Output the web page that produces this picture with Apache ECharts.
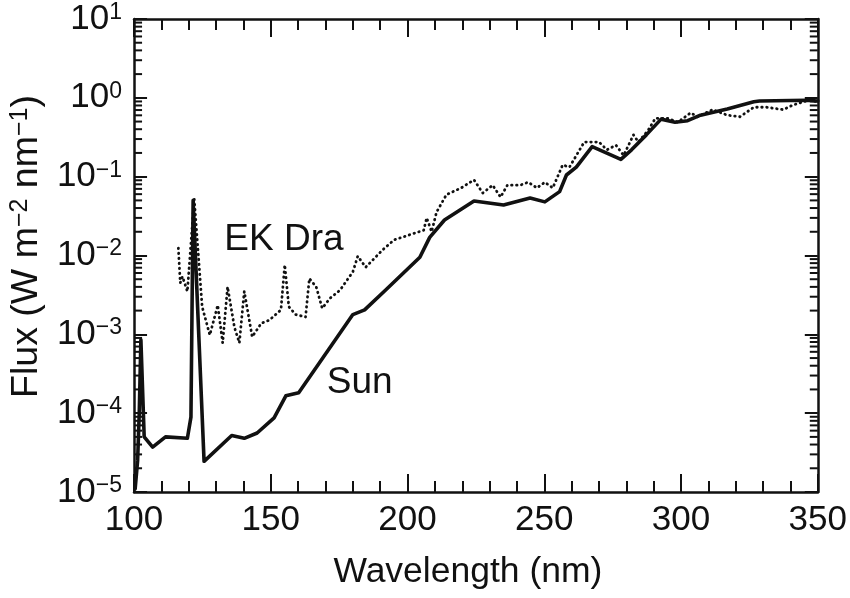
<!DOCTYPE html>
<html><head><meta charset="utf-8">
<script src="https://cdn.jsdelivr.net/npm/echarts@6/dist/echarts.min.js"></script>
<style>html,body{margin:0;padding:0;background:#fff}#c{width:850px;height:598px}</style>
</head><body><div id="c"></div>
<script>
const sunWavelength = [100.4, 101.3, 101.9, 102.5, 103.7, 106.8, 111.5, 119.5, 120.8, 121.6, 125.6, 135.7, 140.3, 145.0, 151.2, 155.5, 160.2, 180.0, 184.3, 191.9, 204.5, 208.1, 213.5, 224.3, 235.1, 244.8, 250.2, 255.6, 258.1, 261.7, 267.5, 278.0, 281.9, 287.3, 292.7, 297.8, 302.4, 307.1, 316.9, 326.6, 328.7, 345.7, 350.0];
const sunFlux = [1.1e-5, 2.5e-5, 1.0e-4, 8.5e-4, 5.0e-5, 3.7e-5, 5.0e-5, 4.8e-5, 8.9e-5, 5.0e-2, 2.45e-5, 5.2e-5, 4.8e-5, 5.6e-5, 8.7e-5, 1.66e-4, 1.82e-4, 1.78e-3, 2.04e-3, 3.63e-3, 9.5e-3, 1.7e-2, 2.82e-2, 4.9e-2, 4.37e-2, 5.37e-2, 4.79e-2, 6.46e-2, 0.105, 0.132, 0.24, 0.166, 0.219, 0.339, 0.537, 0.49, 0.513, 0.603, 0.724, 0.891, 0.912, 0.933, 0.912];
const ekWavelength = [116.2, 116.9, 117.7, 119.5, 122.0, 124.9, 127.7, 130.6, 132.4, 134.2, 136.7, 138.5, 140.3, 143.2, 146.5, 149.4, 153.7, 155.1, 156.6, 159.1, 162.7, 164.1, 166.6, 168.8, 171.7, 175.3, 180.0, 181.8, 184.7, 190.8, 195.1, 205.9, 207.0, 208.8, 210.6, 214.2, 219.6, 224.3, 227.5, 231.1, 234.0, 236.5, 241.2, 244.1, 247.3, 250.2, 253.1, 256.7, 259.2, 264.6, 270.0, 272.9, 276.2, 279.0, 282.6, 284.4, 288.0, 290.6, 295.2, 298.8, 303.5, 306.1, 311.5, 316.9, 321.5, 326.6, 331.3, 337.4, 341.0, 346.8, 350.0];
const ekFlux = [1.24e-2, 4.5e-3, 5.4e-3, 3.5e-3, 5.2e-2, 2.24e-3, 9.8e-4, 2.34e-3, 7.8e-4, 4.0e-3, 1.23e-3, 7.8e-4, 3.5e-3, 9.3e-4, 1.38e-3, 1.51e-3, 2.04e-3, 7.6e-3, 2.24e-3, 1.78e-3, 1.66e-3, 5.1e-3, 4.0e-3, 2.14e-3, 2.88e-3, 3.63e-3, 6.2e-3, 9.8e-3, 7.1e-3, 1.17e-2, 1.58e-2, 2.09e-2, 3.0e-2, 2.0e-2, 3.55e-2, 5.9e-2, 7.2e-2, 9.1e-2, 6.2e-2, 7.8e-2, 5.5e-2, 7.8e-2, 7.8e-2, 8.5e-2, 7.2e-2, 8.5e-2, 7.2e-2, 0.141, 0.132, 0.275, 0.275, 0.219, 0.251, 0.186, 0.339, 0.275, 0.389, 0.55, 0.55, 0.49, 0.646, 0.575, 0.708, 0.603, 0.575, 0.759, 0.759, 0.708, 0.813, 0.933, 0.891];
const yTickExponents = ['\u22125', '\u22124', '\u22123', '\u22122', '\u22121', '0', '1'];
const yMinorTicks = [
  2e-5,3e-5,4e-5,5e-5,6e-5,7e-5,8e-5,9e-5,
  2e-4,3e-4,4e-4,5e-4,6e-4,7e-4,8e-4,9e-4,
  2e-3,3e-3,4e-3,5e-3,6e-3,7e-3,8e-3,9e-3,
  2e-2,3e-2,4e-2,5e-2,6e-2,7e-2,8e-2,9e-2,
  2e-1,3e-1,4e-1,5e-1,6e-1,7e-1,8e-1,9e-1,
  2,3,4,5,6,7,8,9];
const annotations = [
  {name: 'EK Dra', x: 154.8, y: 1.58e-2},
  {name: 'Sun', x: 182.5, y: 2.4e-4}
];

const FONT = '"Liberation Sans", Arial, Helvetica, sans-serif';
const INK = '#111';
const chart = echarts.init(document.getElementById('c'), null, {renderer: 'canvas'});

function xAxisCfg(pos, showLabel) {
  return {
    type: 'value', min: 100, max: 350, interval: 50, position: pos,
    axisLine: {show: true, lineStyle: {color: INK, width: 2.5}},
    axisTick: {show: true, inside: true, length: 18, lineStyle: {color: INK, width: 2}},
    minorTick: {show: true, splitNumber: 5, length: 11, lineStyle: {color: INK, width: 2}},
    splitLine: {show: false}, minorSplitLine: {show: false},
    axisLabel: {show: showLabel, fontFamily: FONT, fontSize: 35, color: INK, margin: 11},
    name: showLabel ? 'Wavelength (nm)' : '',
    nameLocation: 'middle', nameGap: 62,
    nameTextStyle: {fontFamily: FONT, fontSize: 35.5, color: INK, padding: [0, 16, 0, 0]}
  };
}
function yAxisCfg(pos, showLabel) {
  return {
    type: 'log', logBase: 10, min: 1e-5, max: 10, position: pos,
    axisLine: {show: true, lineStyle: {color: INK, width: 2.5}},
    axisTick: {show: true, inside: true, length: 13, lineStyle: {color: INK, width: 2}},
    splitLine: {show: false},
    axisLabel: {
      show: showLabel, margin: 12,
      formatter: function (v, i) { return '{b|10}{s|' + yTickExponents[i] + '}'; },
      rich: {
        b: {fontFamily: FONT, fontSize: 35, color: INK, lineHeight: 36},
        s: {fontFamily: FONT, fontSize: 23, color: INK, verticalAlign: 'top', lineHeight: 22}
      }
    },
    name: showLabel ? '{b|Flux (W m}{s|\u22122}{b| nm}{s|\u22121}{b|)}' : '',
    nameLocation: 'middle', nameGap: 86, nameRotate: 90,
    nameTextStyle: {
      padding: [0, 0, 0, 18],
      rich: {
        b: {fontFamily: FONT, fontSize: 37.5, color: INK, lineHeight: 38},
        s: {fontFamily: FONT, fontSize: 25, color: INK, verticalAlign: 'top', lineHeight: 24}
      }
    }
  };
}

chart.setOption({
  animation: false,
  backgroundColor: '#fff',
  grid: {left: 128, right: 28, top: 19, bottom: 106, containLabel: false},
  xAxis: [xAxisCfg('bottom', true), xAxisCfg('top', false)],
  yAxis: [yAxisCfg('left', true), yAxisCfg('right', false)],
  series: [
    {
      type: 'custom', xAxisIndex: 0, yAxisIndex: 0, silent: true, clip: false,
      data: yMinorTicks.map(v => [100, v]),
      renderItem: function (params, api) {
        const v = api.value(1);
        const pl = api.coord([100, v]);
        const pr = api.coord([350, v]);
        return {type: 'group', children: [
          {type: 'line', shape: {x1: pl[0], y1: pl[1], x2: pl[0] + 8, y2: pl[1]}, style: {stroke: INK, lineWidth: 2}},
          {type: 'line', shape: {x1: pr[0], y1: pr[1], x2: pr[0] - 8, y2: pr[1]}, style: {stroke: INK, lineWidth: 2}}
        ]};
      }
    },
    {
      name: 'EK Dra', type: 'line', xAxisIndex: 0, yAxisIndex: 0,
      data: ekWavelength.map((w, i) => [w, ekFlux[i]]),
      showSymbol: false, smooth: false,
      lineStyle: {color: INK, width: 2.8, type: [0.5, 4.5], cap: 'round', join: 'round'}
    },
    {
      name: 'Sun', type: 'line', xAxisIndex: 0, yAxisIndex: 0,
      data: sunWavelength.map((w, i) => [w, sunFlux[i]]),
      showSymbol: false, smooth: false,
      lineStyle: {color: INK, width: 3.6, join: 'round', cap: 'round'}
    },
    {
      type: 'scatter', xAxisIndex: 0, yAxisIndex: 0, silent: true,
      symbolSize: 0,
      itemStyle: {opacity: 1},
      data: annotations.map(a => ({value: [a.x, a.y], name: a.name})),
      label: {show: true, position: 'inside', formatter: '{b}', fontFamily: FONT, fontSize: 37, color: '#111', opacity: 1}
    }
  ]
});
</script></body></html>
